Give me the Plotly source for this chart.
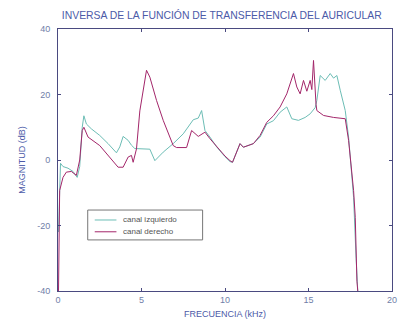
import plotly.graph_objects as go

# canal izquierdo (cyan)
izq_f = [0.03, 0.08, 0.15, 0.3, 0.6, 0.9, 1.15, 1.3, 1.45, 1.55, 1.7, 2.0, 2.5, 3.0, 3.5, 3.7, 3.9, 4.2, 4.4, 4.6,
         5.0, 5.5, 5.8, 6.3, 6.9, 7.5, 8.1, 8.4, 8.6, 8.8, 9.1, 9.5, 10.0, 10.3, 10.45, 10.9, 11.1, 11.7, 12.1,
         12.5, 12.9, 13.3, 13.7, 14.0, 14.4, 14.8, 15.1, 15.4, 15.5, 15.7, 16.0, 16.3, 16.5, 16.7, 16.9, 17.2,
         17.4, 17.7, 17.85, 17.95]
izq_db = [-22, -8, -1, -2, -2.5, -3.5, -5.3, -2, 10, 13.5, 11, 9.5, 7.5, 5, 2.2, 4, 7.2, 6, 4.5, 3.5,
          3.5, 3.3, -0.2, 2.4, 5, 8, 12.3, 12.8, 15.1, 9, 7, 4, 1, -0.5, -0.7, 5, 3.9, 5, 7,
          11, 12, 14.6, 16.2, 12.6, 12.1, 13, 14.1, 16, 18.2, 25.8, 24.3, 26.4, 25, 25.8, 21.3, 15.1,
          7, -11.4, -30, -40]

# canal derecho (magenta)
der_f = [0.03, 0.06, 0.1, 0.3, 0.5, 0.8, 1.1, 1.3, 1.45, 1.55, 1.8, 2.5, 3.0, 3.6, 3.9, 4.2, 4.4, 4.5, 4.7,
         4.9, 5.3, 5.5, 5.9, 6.3, 6.9, 7.1, 7.7, 8.0, 8.4, 8.8, 9.1, 9.5, 10.0, 10.3, 10.45, 10.9, 11.1, 11.7,
         12.1, 12.5, 12.9, 13.3, 13.7, 14.1, 14.3, 14.5, 14.7, 14.9, 15.1, 15.2, 15.3, 15.45, 15.5, 15.9,
         16.5, 17.2, 17.4, 17.7, 17.8, 17.9, 17.95]
der_db = [-40, -20, -9.3, -5.3, -3.7, -3.5, -4.7, 0, 9, 10, 7, 4.4, 1.5, -2.2, -2.2, 0.9, 1.4, -0.7, 3.4,
          15, 27.4, 25.3, 18.2, 12.1, 4.4, 3.8, 3.8, 9, 7.2, 8.5, 6.5, 4, 1.2, -0.2, -0.7, 5, 3.9, 5,
          7.5, 11.5, 13.5, 16.2, 20.2, 26.4, 22.3, 20.2, 24.3, 21, 24.3, 21.5, 30.4, 17, 15.1, 13.6,
          13, 12.6, 6, -9.3, -17.5, -37, -40]

x_ticks = [0, 5, 10, 15, 20]
y_ticks = [-40, -20, 0, 20, 40]

series_names = ["canal izquierdo", "canal derecho"]
title_text = "INVERSA DE LA FUNCIÓN DE TRANSFERENCIA DEL AURICULAR"
x_title = "FRECUENCIA (kHz)"
y_title = "MAGNITUD (dB)"

cyan = "#6cbdb5"
magenta = "#a3266a"
axis_col = "#4a4a80"
label_col = "#4c5aa8"
tick_col = "#7080a8"
FONT = "Liberation Sans, Arial"

fig = go.Figure()
fig.add_trace(go.Scatter(x=izq_f, y=izq_db, mode="lines", name=series_names[0],
                         line=dict(color=cyan, width=1), showlegend=False))
fig.add_trace(go.Scatter(x=der_f, y=der_db, mode="lines", name=series_names[1],
                         line=dict(color=magenta, width=1), showlegend=False))

axis_common = dict(showgrid=False, zeroline=False, showline=True, linecolor=axis_col, linewidth=1,
                   mirror="ticks", ticks="inside", ticklen=3, tickcolor=axis_col, automargin=False,
                   tickfont=dict(family=FONT, size=9, color=tick_col))

# compact legend box (paper coordinates)
lx0, lx1, ly0, ly1 = 0.089, 0.433, 0.195, 0.309
rows = [(0.271, cyan, series_names[0]), (0.226, magenta, series_names[1])]
shapes = [dict(type="rect", xref="paper", yref="paper", x0=lx0, x1=lx1, y0=ly0, y1=ly1,
               line=dict(color="#777777", width=1), fillcolor="white", layer="above")]
annotations = []
for yy, col, name in rows:
    shapes.append(dict(type="line", xref="paper", yref="paper", x0=0.11, x1=0.175, y0=yy, y1=yy,
                       line=dict(color=col, width=1), layer="above"))
    annotations.append(dict(xref="paper", yref="paper", x=0.19, y=yy, text=name, showarrow=False,
                            xanchor="left", yanchor="middle",
                            font=dict(family=FONT, size=8, color="#555555")))

fig.update_layout(
    width=401, height=322,
    margin=dict(l=58, r=9, t=29, b=31),
    paper_bgcolor="white", plot_bgcolor="white",
    title=dict(text=title_text, x=0.553, xanchor="center", y=0.953, yanchor="middle",
               font=dict(family=FONT, size=10.4, color=label_col)),
    xaxis=dict(range=[0, 20], tickvals=x_ticks, ticktext=[str(v) for v in x_ticks],
               title=dict(text=x_title, standoff=6, font=dict(family=FONT, size=9, color=label_col)),
               **axis_common),
    yaxis=dict(range=[-40, 40], tickvals=y_ticks, ticktext=[str(v) for v in y_ticks],
               ticklabelstandoff=5,
               title=dict(text=y_title, standoff=10, font=dict(family=FONT, size=9, color=label_col)),
               **axis_common),
    showlegend=False,
    shapes=shapes,
    annotations=annotations,
)

fig.write_html("out.html", config={"displayModeBar": False},
               post_script="document.body.style.margin='0';")
